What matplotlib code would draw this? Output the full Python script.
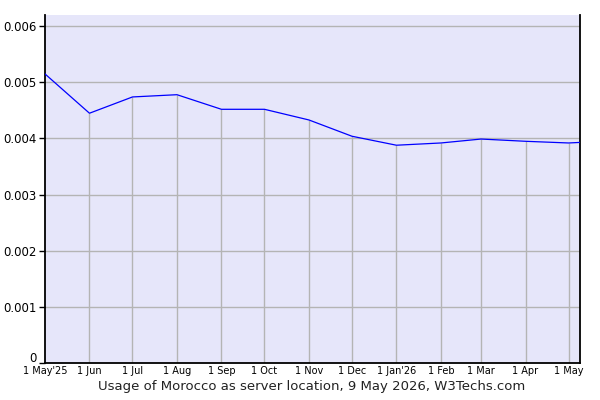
import matplotlib.pyplot as plt
import matplotlib.dates as mdates
import matplotlib.transforms as mtransforms
from datetime import date

dates = [date(2025, 5, 1), date(2025, 6, 1), date(2025, 7, 1), date(2025, 8, 1),
         date(2025, 9, 1), date(2025, 10, 1), date(2025, 11, 1), date(2025, 12, 1),
         date(2026, 1, 1), date(2026, 2, 1), date(2026, 3, 1), date(2026, 4, 1),
         date(2026, 5, 1), date(2026, 5, 9)]
usage = [0.00515, 0.00445, 0.00474, 0.00478, 0.00452, 0.00452, 0.00433, 0.00404,
         0.00388, 0.00392, 0.00399, 0.00395, 0.00392, 0.00393]

tick_labels = ["1 May'25", "1 Jun", "1 Jul", "1 Aug", "1 Sep", "1 Oct", "1 Nov",
               "1 Dec", "1 Jan'26", "1 Feb", "1 Mar", "1 Apr", "1 May"]
y_ticks = [0, 0.001, 0.002, 0.003, 0.004, 0.005, 0.006]
y_labels = ["0", "0.001", "0.002", "0.003", "0.004", "0.005", "0.006"]

fig = plt.figure(figsize=(6, 4), dpi=100)
ax = fig.add_axes([0.075, 0.0925, 0.8917, 0.87])
ax.set_facecolor('#e6e6fa')

x = mdates.date2num(dates)
ax.set_xlim(x[0], x[-1])
ax.set_ylim(0, 0.0062)

for yt in y_ticks[1:]:
    ax.axhline(yt, color='#b4b4b4', lw=1, zorder=1)
# drop lines from monthly points
ax.vlines(x[1:-1], 0, usage[1:-1], color='#b4b4b4', lw=1, zorder=1)

ax.plot(x, usage, color='#0000ff', lw=0.9, zorder=3)

ax.set_yticks(y_ticks)
ax.set_yticklabels(y_labels, fontsize=8.5)
ax.set_xticks(x[:-1])
ax.set_xticklabels(tick_labels, fontsize=7)
ax.tick_params(axis='x', length=0, pad=2)
ax.tick_params(axis='y', length=4, width=1, pad=2)

# lift the "0" label a little so it clears the date labels
zero_lbl = ax.get_yticklabels()[0]
zero_lbl.set_transform(zero_lbl.get_transform() +
                       mtransforms.ScaledTranslation(0, 4 / 72, fig.dpi_scale_trans))

ax.spines['top'].set_visible(False)
for s in ['left', 'bottom', 'right']:
    ax.spines[s].set_linewidth(1.3)
    ax.spines[s].set_color('black')

fig.text(0.52, 0.034, "Usage of Morocco as server location, 9 May 2026, W3Techs.com",
         ha='center', va='center', fontsize=9.5, color='#222222')

fig.savefig('out.png', dpi=100)
